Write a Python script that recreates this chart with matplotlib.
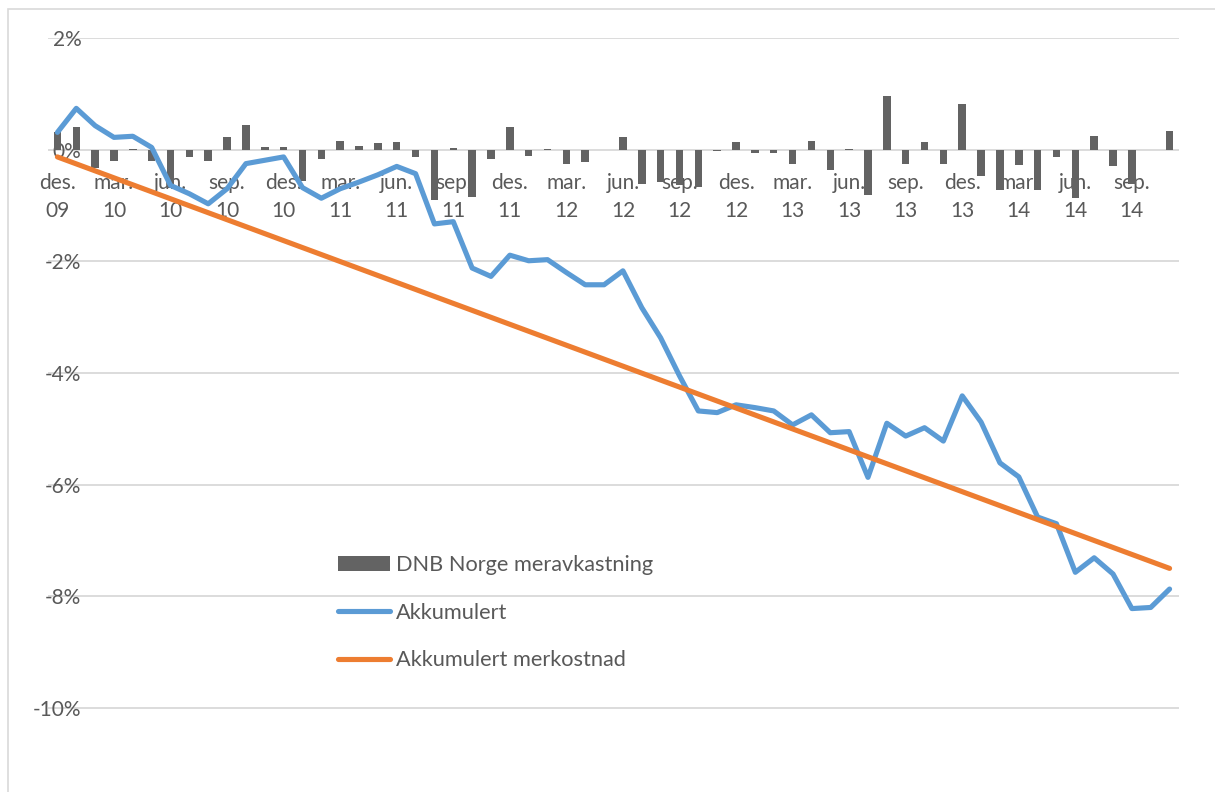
import matplotlib

matplotlib.use("Agg")

import matplotlib.pyplot as plt
from matplotlib.lines import Line2D
from matplotlib.patches import Patch, Rectangle

plt.rcParams["font.family"] = ["Lato", "DejaVu Sans"]

TEXT = "#595959"
GRID = "#d9d9d9"
BAR = "#636363"
BLUE = "#5b9bd5"
ORANGE = "#ed7d31"

# monthly excess return, des. 09 - nov. 14 (percent)
meravkastning = [
    0.31, 0.41, -0.33, -0.21, 0.02, -0.21, -0.68, -0.13, -0.20, 0.22,
    0.45, 0.04, 0.04, -0.56, -0.16, 0.15, 0.07, 0.12, 0.13, -0.13,
    -0.90, 0.03, -0.84, -0.16, 0.40, -0.12, 0.02, -0.26, -0.22, 0.00,
    0.22, -0.61, -0.58, -0.64, -0.66, -0.03, 0.14, -0.06, -0.06, -0.25,
    0.16, -0.36, 0.01, -0.82, 0.97, -0.26, 0.14, -0.26, 0.81, -0.47,
    -0.73, -0.27, -0.72, -0.13, -0.87, 0.24, -0.29, -0.62, 0.00, 0.33,
]

# accumulated excess return (percent)
akkumulert = [
    0.31, 0.74, 0.43, 0.22, 0.24, 0.04, -0.64, -0.79, -0.97, -0.70,
    -0.25, -0.19, -0.13, -0.68, -0.87, -0.70, -0.58, -0.45, -0.30, -0.43,
    -1.33, -1.29, -2.12, -2.27, -1.89, -1.99, -1.97, -2.20, -2.42, -2.42,
    -2.17, -2.83, -3.37, -4.05, -4.68, -4.71, -4.57, -4.62, -4.68, -4.93,
    -4.75, -5.07, -5.05, -5.87, -4.90, -5.13, -4.98, -5.22, -4.41, -4.88,
    -5.61, -5.86, -6.58, -6.70, -7.57, -7.31, -7.60, -8.22, -8.20, -7.87,
]

# accumulated extra cost is a straight line: first and last month
merkostnad_month = [0, 59]
merkostnad = [-0.13, -7.50]

tick_months = ["des.", "mar.", "jun.", "sep."] * 5
tick_years = ["09", "10", "10", "10", "10", "11", "11", "11", "11", "12",
              "12", "12", "12", "13", "13", "13", "13", "14", "14", "14"]

y_ticks = [2, 0, -2, -4, -6, -8, -10]

months = list(range(len(meravkastning)))

W, H = 1215, 792
fig = plt.figure(figsize=(W / 100, H / 100), dpi=100)
fig.patch.set_facecolor("white")

# chart border
fig.add_artist(Rectangle((8 / W, -0.1), 1.5, 1.1 - 9 / H, transform=fig.transFigure,
                         fill=False, edgecolor=GRID, linewidth=1.2))

ax = fig.add_axes([48 / W, 0, (1179 - 48) / W, (H - 38) / H])
ax.set_xlim(-0.5, len(months) - 0.5)
ax.set_ylim(2 - (H - 38) / 55.83, 2)

for s in ax.spines.values():
    s.set_visible(False)

ax.set_axisbelow(True)
ax.set_yticks(y_ticks)
ax.set_yticklabels([f"{v}%" for v in y_ticks])
ax.yaxis.grid(True, color=GRID, linewidth=1.3)
ax.tick_params(axis="y", length=0, pad=-24, labelsize=15, labelcolor=TEXT)
ax.set_xticks([])

ax.bar(months, meravkastning, width=0.4, color=BAR, zorder=2,
       label="DNB Norge meravkastning")
ax.plot(months, akkumulert, color=BLUE, linewidth=3.7, zorder=3,
        solid_joinstyle="round", solid_capstyle="round", label="Akkumulert")
ax.plot(merkostnad_month, merkostnad, color=ORANGE, linewidth=3.7, zorder=4,
        solid_capstyle="round", label="Akkumulert merkostnad")

# category labels sit just under the zero line
for k, (m, yr) in enumerate(zip(tick_months, tick_years)):
    ax.annotate(m, xy=(k * 3, 0), xytext=(0, -39), textcoords="offset pixels",
                ha="center", va="baseline", fontsize=15, color=TEXT, zorder=1)
    ax.annotate(yr, xy=(k * 3, 0), xytext=(0, -67), textcoords="offset pixels",
                ha="center", va="baseline", fontsize=15, color=TEXT, zorder=1)

handles = [
    Patch(facecolor=BAR, edgecolor="none"),
    Line2D([], [], color=BLUE, linewidth=3.7, solid_capstyle="round"),
    Line2D([], [], color=ORANGE, linewidth=3.7, solid_capstyle="round"),
]
labels = ["DNB Norge meravkastning", "Akkumulert", "Akkumulert merkostnad"]
ax.legend(handles, labels, loc="upper left",
          bbox_to_anchor=(338 / W, 1 - 555 / H), bbox_transform=fig.transFigure,
          frameon=False, borderpad=0, borderaxespad=0, fontsize=15.7,
          labelcolor=TEXT, handlelength=2.4, handleheight=0.7,
          handletextpad=0.25, labelspacing=1.27)

fig.savefig("out.png", dpi=100)
